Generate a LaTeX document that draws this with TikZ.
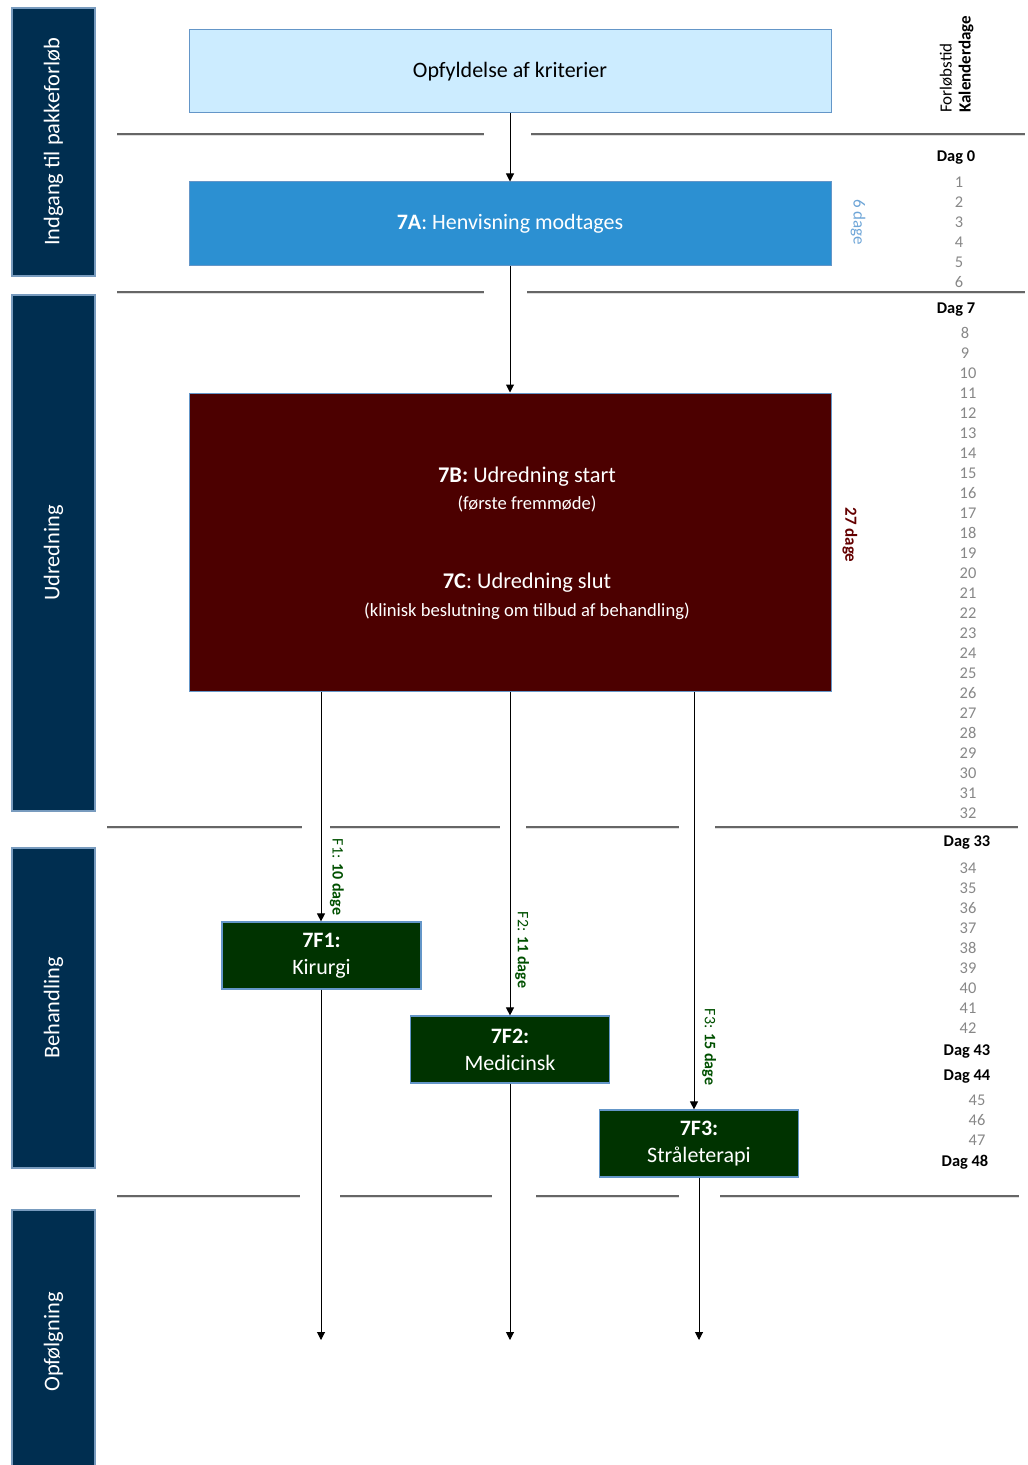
\documentclass[tikz,border=0pt]{standalone}
\usepackage{fontspec}
\setmainfont{Carlito}
\usetikzlibrary{arrows.meta}
\definecolor{navy}{RGB}{0,46,80}
\definecolor{barborder}{RGB}{120,155,190}
\definecolor{lightbox}{RGB}{204,236,255}
\definecolor{boxborder}{RGB}{100,150,200}
\definecolor{midblue}{RGB}{44,144,210}
\definecolor{darkred}{RGB}{76,0,0}
\definecolor{darkgreen}{RGB}{0,51,0}
\definecolor{greentext}{RGB}{0,80,0}
\definecolor{sixblue}{RGB}{110,165,215}
\definecolor{redtext}{RGB}{100,0,0}
\definecolor{numgray}{RGB}{135,135,135}
\begin{document}
\begin{tikzpicture}[x=0.5pt,y=-0.5pt,
  bar/.style={draw=barborder,line width=0.6pt,fill=navy,text=white,rotate=90,minimum height=41.5pt,inner sep=0pt,font=\fontsize{11.2}{13}\selectfont},
  mainbox/.style={draw=boxborder,line width=0.5pt,minimum width=321pt,inner sep=0pt,font=\fontsize{11}{13}\selectfont},
  fbox/.style={draw=boxborder,line width=0.6pt,fill=darkgreen,text=white,minimum width=99.5pt,minimum height=33.5pt,inner sep=0pt,align=center,font=\fontsize{11}{13.5}\selectfont},
  arr/.style={-{Triangle[length=4pt,width=4pt]},line width=0.5pt,black},
  sep/.style={draw=gray!80!black,line width=0.7pt},
  seps/.style={draw=gray!25,line width=0.5pt},
  num/.style={text=numgray,font=\fontsize{8.2}{9}\selectfont,inner sep=0pt},
  dag/.style={font=\fontsize{8.2}{9}\selectfont\bfseries,inner sep=0pt},
  flab/.style={text=greentext,rotate=-90,font=\fontsize{8}{9}\selectfont,inner sep=0pt},
  txt/.style={text=white,inner sep=0pt}]
\useasboundingbox (0,0) rectangle (1027,1465);

% left bars
\node[bar,minimum width=134pt] (b1) at (53.5,142) {Indgang til pakkeforløb};
\node[bar,minimum width=258pt] (b2) at (53.5,553) {Udredning};
\node[bar,minimum width=160pt] (b3) at (53.5,1008) {Behandling};
\node[bar,minimum width=132pt] (b4) at (53.5,1342) {Opfølgning};

% separators
\foreach \y/\segs in {134/{117/484,531/1025},292/{117/484,527/1025},827/{107/302,330/500,526/679,715/1018},1196/{117/300,340/492,536/679,720/1019}}{
  \foreach \a/\b in \segs {
    \draw[seps] (\a,\y+1.5) -- (\b,\y+1.5);
    \draw[sep] (\a,\y) -- (\b,\y);
  }
}

% main boxes
\node[mainbox,fill=lightbox,minimum height=41.5pt] (top) at (510,71.5) {\raisebox{-1pt}{Opfyldelse af kriterier}};
\node[mainbox,fill=midblue,text=white,minimum height=42pt] (a7) at (510,224) {\raisebox{-1pt}{\textbf{7A}: Henvisning modtages}};
\node[mainbox,fill=darkred,minimum height=149pt] (b7) at (510,542) {};
\node[txt,font=\fontsize{11.2}{13}\selectfont] (t1) at (527,477) {\textbf{7B:} Udredning start};
\node[txt,font=\fontsize{9.3}{11}\selectfont] (t2) at (527,504) {(første fremmøde)};
\node[txt,font=\fontsize{11.2}{13}\selectfont] (t3) at (527,583) {\textbf{7C}: Udredning slut};
\node[txt,font=\fontsize{9.3}{11}\selectfont] (t4) at (527,611) {(klinisk beslutning om tilbud af behandling)};

% treatment boxes
\node[fbox] (f1) at (321.5,955.5) {\textbf{7F1:}\\Kirurgi};
\node[fbox] (f2) at (510,1049.5) {\textbf{7F2:}\\Medicinsk};
\node[fbox] (f3) at (699,1143.5) {\textbf{7F3:}\\Stråleterapi};

% connectors
\coordinate (x1) at (321,0);
\coordinate (x3) at (694,0);
\coordinate (e1) at (321,1340);
\coordinate (e2) at (510,1340);
\coordinate (e3) at (699,1340);
\draw[arr] (top) -- (a7);
\draw[arr] (a7) -- (b7);
\draw[arr] (b7.south -| x1) -- (f1.north -| x1);
\draw[arr] (b7.south) -- (f2.north);
\draw[arr] (b7.south -| x3) -- (f3.north -| x3);
\draw[arr] (f1.south -| e1) -- (e1);
\draw[arr] (f2.south) -- (e2);
\draw[arr] (f3.south) -- (e3);

% duration labels
\node[rotate=-90,text=sixblue,font=\fontsize{8.5}{9}\selectfont,inner sep=0pt] (d6) at (858,222) {6 dage};
\node[rotate=-90,text=redtext,font=\fontsize{8.5}{9}\selectfont\bfseries,inner sep=0pt] (d27) at (850,535) {27 dage};
\node[flab] (lf1) at (337,877) {F1: \textbf{10 dage}};
\node[flab] (lf2) at (522,950) {F2: \textbf{11 dage}};
\node[flab] (lf3) at (709,1047) {F3: \textbf{15 dage}};

% right header
\node[rotate=90,anchor=west,font=\fontsize{8.5}{9}\selectfont,inner sep=0pt] (h1) at (946,113) {Forløbstid};
\node[rotate=90,anchor=west,font=\fontsize{8.5}{9}\selectfont\bfseries,inner sep=0pt] (h2) at (966,113) {Kalenderdage};

% day column
\node[dag] (dag0) at (956,158) {Dag 0};
\foreach \n in {1,...,6} \node[num] (n\n) at (959,162+20*\n) {\n};
\node[dag] (dag7) at (956,310) {Dag 7};
\foreach \n in {8,9} \node[num] (n\n) at (965,333+20*\n-160) {\n};
\foreach \n in {10,...,32} \node[num] (n\n) at (968,333+20*\n-160) {\n};
\node[dag] (dag33) at (967,843) {Dag 33};
\foreach \n in {34,...,42} \node[num] (n\n) at (968,868+20*\n-680) {\n};
\node[dag] (dag43) at (967,1051) {Dag 43};
\node[dag] (dag44) at (967,1077) {Dag 44};
\foreach \n in {45,46,47} \node[num] (n\n) at (977,1100+20*\n-900) {\n};
\node[dag] (dag48) at (965,1162) {Dag 48};
\end{tikzpicture}
\end{document}
